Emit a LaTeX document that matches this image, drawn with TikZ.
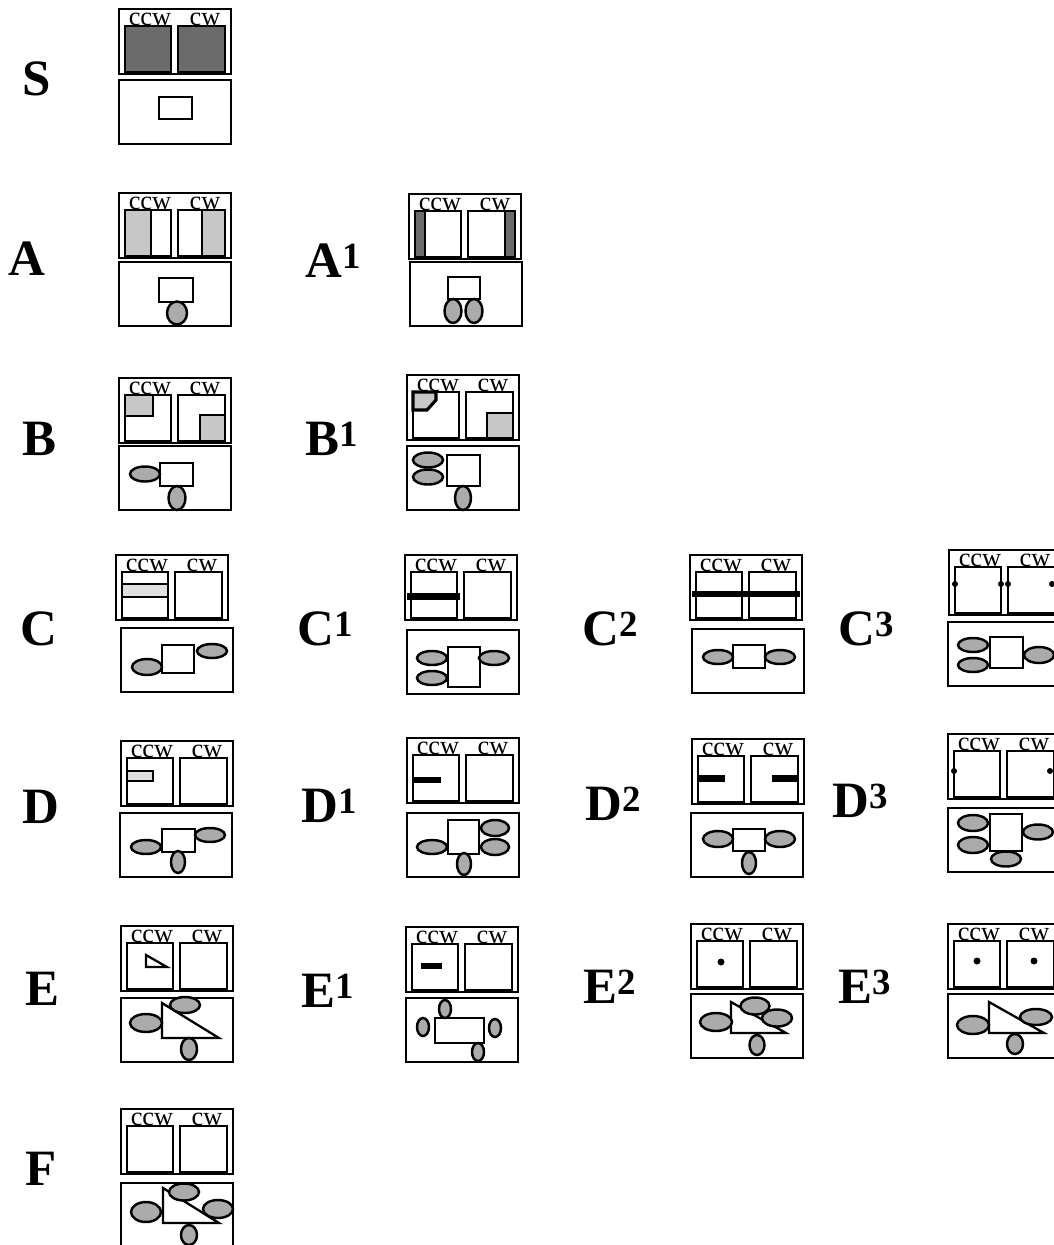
\documentclass[tikz,border=0pt]{standalone}
\usepackage{fontspec}
\setmainfont{Liberation Serif}
\usetikzlibrary{positioning}
\tikzset{
  frame/.style={draw, line width=1.3pt},
  cellbox/.style={draw, line width=1.3pt, fill=white},
  lite/.style={draw, line width=1.1pt, fill=black!22},
  dense/.style={draw, line width=1.1pt, fill=black!58},
  blob/.style={draw, line width=1.4pt, fill=black!33},
  bar/.style={fill=black},
  tag/.style={font=\fontsize{15}{15}\selectfont, inner sep=0pt, anchor=base},
  caselabel/.style={font=\fontsize{29}{29}\selectfont\bfseries, inner sep=0pt, anchor=base west},
  upper/.pic={
    \draw[cellbox] (0,0) rectangle (112,65);
    \draw[frame] (6,17) rectangle (52,63);
    \draw[frame] (59,17) rectangle (106,63);
    \node[tag] (-ccw) at (31,16) {ccw};
    \node[tag] (-cw) at (86,16) {cw};
  },
  lower/.pic={
    \draw[cellbox] (0,0) rectangle (112,64);
  }
}
\newcommand{\casesup}[1]{\raisebox{5pt}{\fontsize{21}{21}\selectfont #1}}
\begin{document}
\begin{tikzpicture}[x=0.02cm, y=-0.02cm]
  \useasboundingbox (0,0) rectangle (1054,1245);
  \clip (0,0) rectangle (1054,1245);

  % case letters
  \node[caselabel] (labS) at (22,95) {S};
  \node[caselabel] (labA) at (8,275) {A};
  \node[caselabel] (labA1) at (305,277) {A\casesup{1}};
  \node[caselabel] (labB) at (22,455) {B};
  \node[caselabel] (labB1) at (305,455) {B\casesup{1}};
  \node[caselabel] (labC) at (20,645) {C};
  \node[caselabel] (labC1) at (297,645) {C\casesup{1}};
  \node[caselabel] (labC2) at (582,645) {C\casesup{2}};
  \node[caselabel] (labC3) at (838,645) {C\casesup{3}};
  \node[caselabel] (labD) at (22,823) {D};
  \node[caselabel] (labD1) at (301,822) {D\casesup{1}};
  \node[caselabel] (labD2) at (585,820) {D\casesup{2}};
  \node[caselabel] (labD3) at (832,817) {D\casesup{3}};
  \node[caselabel] (labE) at (25,1005) {E};
  \node[caselabel] (labE1) at (301,1007) {E\casesup{1}};
  \node[caselabel] (labE2) at (583,1003) {E\casesup{2}};
  \node[caselabel] (labE3) at (838,1003) {E\casesup{3}};
  \node[caselabel] (labF) at (25,1185) {F};

  % S
  \begin{scope}[shift={(119,9)}]
    \pic (S) {upper};
    \draw[dense] (6,17) rectangle (52,63);
    \draw[dense] (59,17) rectangle (106,63);
  \end{scope}
  \begin{scope}[shift={(119,80)}]
    \pic (Sb) {lower};
    \draw[frame] (40,17) rectangle (73,39);
  \end{scope}

  % A
  \begin{scope}[shift={(119,193)}]
    \pic (A) {upper};
    \draw[lite] (6,17) rectangle (32,63);
    \draw[lite] (83,17) rectangle (106,63);
  \end{scope}
  \begin{scope}[shift={(119,262)}]
    \pic (Ab) {lower};
    \draw[frame] (40,16) rectangle (74,40);
    \draw[blob] (58,51) ellipse [x radius=10, y radius=11.5];
  \end{scope}

  % A1
  \begin{scope}[shift={(409,194)}]
    \pic (A1) {upper};
    \draw[dense] (6,17) rectangle (16,63);
    \draw[dense] (96,17) rectangle (106,63);
  \end{scope}
  \begin{scope}[shift={(410,262)}]
    \pic (A1b) {lower};
    \draw[frame] (38,15) rectangle (70,37);
    \draw[blob] (43,49) ellipse [x radius=8.5, y radius=12];
    \draw[blob] (64,49) ellipse [x radius=8.5, y radius=12];
  \end{scope}

  % B
  \begin{scope}[shift={(119,378)}]
    \pic (B) {upper};
    \draw[lite] (6,17) rectangle (34,38);
    \draw[lite] (81,37) rectangle (106,63);
  \end{scope}
  \begin{scope}[shift={(119,446)}]
    \pic (Bb) {lower};
    \draw[frame] (41,17) rectangle (74,40);
    \draw[blob] (26,28) ellipse [x radius=15, y radius=7.5];
    \draw[blob] (58,52) ellipse [x radius=8.5, y radius=12];
  \end{scope}

  % B1
  \begin{scope}[shift={(407,375)}]
    \pic (B1) {upper};
    \draw[lite, line width=1.8pt] (6,17) -- (29,17) -- (29,25) -- (20,35) -- (6,35) -- cycle;
    \draw[lite] (80,38) rectangle (106,63);
  \end{scope}
  \begin{scope}[shift={(407,446)}]
    \pic (B1b) {lower};
    \draw[frame] (40,9) rectangle (73,40);
    \draw[blob] (21,14) ellipse [x radius=15, y radius=7.5];
    \draw[blob] (21,31) ellipse [x radius=15, y radius=7.5];
    \draw[blob] (56,52) ellipse [x radius=8, y radius=12];
  \end{scope}

  % C
  \begin{scope}[shift={(116,555)}]
    \pic (C) {upper};
    \draw[lite, fill=black!12] (6,29) rectangle (52,42);
  \end{scope}
  \begin{scope}[shift={(121,628)}]
    \pic (Cb) {lower};
    \draw[frame] (41,17) rectangle (73,45);
    \draw[blob] (91,23) ellipse [x radius=15, y radius=7];
    \draw[blob] (26,39) ellipse [x radius=15, y radius=8];
  \end{scope}

  % C1
  \begin{scope}[shift={(405,555)}]
    \pic (C1) {upper};
    \fill[bar] (2,38) rectangle (55,45);
  \end{scope}
  \begin{scope}[shift={(407,630)}]
    \pic (C1b) {lower};
    \draw[frame] (41,17) rectangle (73,57);
    \draw[blob] (25,28) ellipse [x radius=15, y radius=7];
    \draw[blob] (25,48) ellipse [x radius=15, y radius=7];
    \draw[blob] (87,28) ellipse [x radius=15, y radius=7];
  \end{scope}

  % C2
  \begin{scope}[shift={(690,555)}]
    \pic (C2) {upper};
    \fill[bar] (2,36) rectangle (110,42);
  \end{scope}
  \begin{scope}[shift={(692,629)}]
    \pic (C2b) {lower};
    \draw[frame] (41,16) rectangle (73,39);
    \draw[blob] (26,28) ellipse [x radius=15, y radius=7];
    \draw[blob] (88,28) ellipse [x radius=15, y radius=7];
  \end{scope}

  % C3
  \begin{scope}[shift={(949,550)}]
    \pic (C3) {upper};
    \foreach \dx in {6,52,59,103}
      \fill (\dx,34) circle (3);
  \end{scope}
  \begin{scope}[shift={(948,622)}]
    \pic (C3b) {lower};
    \draw[frame] (42,15) rectangle (75,46);
    \draw[blob] (25,23) ellipse [x radius=15, y radius=7];
    \draw[blob] (25,43) ellipse [x radius=15, y radius=7];
    \draw[blob] (91,33) ellipse [x radius=15, y radius=8];
  \end{scope}

  % D
  \begin{scope}[shift={(121,741)}]
    \pic (D) {upper};
    \draw[lite, fill=black!12] (6,30) rectangle (32,40);
  \end{scope}
  \begin{scope}[shift={(120,813)}]
    \pic (Db) {lower};
    \draw[frame] (42,16) rectangle (75,39);
    \draw[blob] (90,22) ellipse [x radius=15, y radius=7];
    \draw[blob] (26,34) ellipse [x radius=15, y radius=7];
    \draw[blob] (58,49) ellipse [x radius=7, y radius=11];
  \end{scope}

  % D1
  \begin{scope}[shift={(407,738)}]
    \pic (D1) {upper};
    \fill[bar] (6,39) rectangle (34,45);
  \end{scope}
  \begin{scope}[shift={(407,813)}]
    \pic (D1b) {lower};
    \draw[frame] (41,7) rectangle (72,41);
    \draw[blob] (88,15) ellipse [x radius=14, y radius=8];
    \draw[blob] (88,34) ellipse [x radius=14, y radius=8];
    \draw[blob] (25,34) ellipse [x radius=15, y radius=7];
    \draw[blob] (57,51) ellipse [x radius=7, y radius=11];
  \end{scope}

  % D2
  \begin{scope}[shift={(692,739)}]
    \pic (D2) {upper};
    \fill[bar] (6,36) rectangle (33,43);
    \fill[bar] (80,36) rectangle (106,43);
  \end{scope}
  \begin{scope}[shift={(691,813)}]
    \pic (D2b) {lower};
    \draw[frame] (42,16) rectangle (74,38);
    \draw[blob] (27,26) ellipse [x radius=15, y radius=8];
    \draw[blob] (89,26) ellipse [x radius=15, y radius=8];
    \draw[blob] (58,50) ellipse [x radius=7, y radius=11];
  \end{scope}

  % D3
  \begin{scope}[shift={(948,734)}]
    \pic (D3) {upper};
    \fill (6,37) circle (3);
    \fill (102,37) circle (3);
  \end{scope}
  \begin{scope}[shift={(948,808)}]
    \pic (D3b) {lower};
    \draw[frame] (42,6) rectangle (74,43);
    \draw[blob] (25,15) ellipse [x radius=15, y radius=8];
    \draw[blob] (25,37) ellipse [x radius=15, y radius=8];
    \draw[blob] (90,24) ellipse [x radius=15, y radius=7.5];
    \draw[blob] (58,51) ellipse [x radius=15, y radius=7.5];
  \end{scope}

  % E
  \begin{scope}[shift={(121,926)}]
    \pic (E) {upper};
    \draw[frame] (25,29) -- (25,41) -- (46,41) -- cycle;
  \end{scope}
  \begin{scope}[shift={(121,998)}]
    \pic (Eb) {lower};
    \draw[frame] (41,5) -- (41,40) -- (98,40) -- cycle;
    \draw[blob] (64,7) ellipse [x radius=15, y radius=8];
    \draw[blob] (25,25) ellipse [x radius=16, y radius=9];
    \draw[blob] (68,51) ellipse [x radius=8, y radius=11];
  \end{scope}

  % E1
  \begin{scope}[shift={(406,927)}]
    \pic (E1) {upper};
    \fill[bar] (15,36) rectangle (36,42);
  \end{scope}
  \begin{scope}[shift={(406,998)}]
    \pic (E1b) {lower};
    \draw[frame] (29,20) rectangle (78,45);
    \draw[blob] (39,11) ellipse [x radius=6, y radius=9];
    \draw[blob] (17,29) ellipse [x radius=6, y radius=9];
    \draw[blob] (89,30) ellipse [x radius=6, y radius=9];
    \draw[blob] (72,54) ellipse [x radius=6, y radius=9];
  \end{scope}

  % E2
  \begin{scope}[shift={(691,924)}]
    \pic (E2) {upper};
    \fill (30,38) circle (3.5);
  \end{scope}
  \begin{scope}[shift={(691,994)}]
    \pic (E2b) {lower};
    \draw[frame] (40,8) -- (40,39) -- (95,39) -- cycle;
    \draw[blob] (64,12) ellipse [x radius=14.5, y radius=8.5];
    \draw[blob] (86,24) ellipse [x radius=15, y radius=8.5];
    \draw[blob] (25,28) ellipse [x radius=16, y radius=9];
    \draw[blob] (66,51) ellipse [x radius=7.5, y radius=10];
  \end{scope}

  % E3
  \begin{scope}[shift={(948,924)}]
    \pic (E3) {upper};
    \fill (29,37) circle (3.5);
    \fill (86,37) circle (3.5);
  \end{scope}
  \begin{scope}[shift={(948,994)}]
    \pic (E3b) {lower};
    \draw[frame] (41,8) -- (41,39) -- (96,39) -- cycle;
    \draw[blob] (88,23) ellipse [x radius=16, y radius=8];
    \draw[blob] (25,31) ellipse [x radius=16, y radius=9];
    \draw[blob] (67,50) ellipse [x radius=8, y radius=10];
  \end{scope}

  % F
  \begin{scope}[shift={(121,1109)}]
    \pic (F) {upper};
  \end{scope}
  \begin{scope}[shift={(121,1183)}]
    \pic (Fb) {lower};
    \draw[frame] (42,5) -- (42,40) -- (98,40) -- cycle;
    \draw[blob] (63,9) ellipse [x radius=15, y radius=8.5];
    \draw[blob] (97,26) ellipse [x radius=15, y radius=9];
    \draw[blob] (25,29) ellipse [x radius=15, y radius=10];
    \draw[blob] (68,52) ellipse [x radius=8, y radius=10];
  \end{scope}
\end{tikzpicture}
\end{document}
